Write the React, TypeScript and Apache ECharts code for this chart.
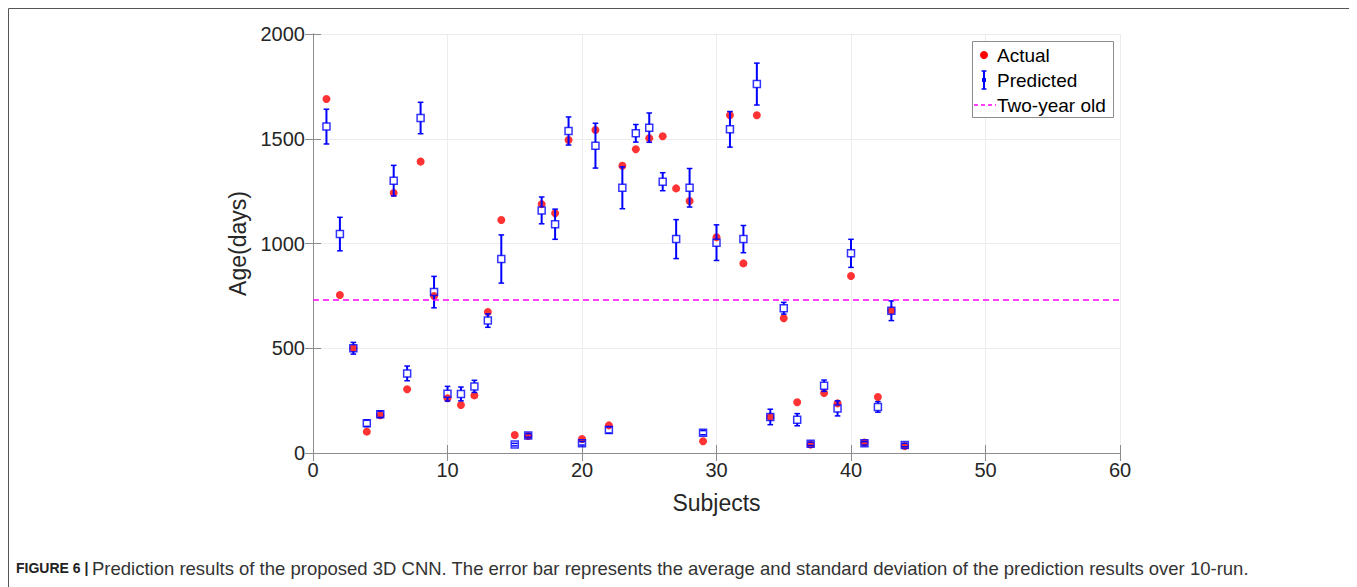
import React, { useEffect, useRef } from "react";
import * as echarts from "echarts";

const subjects = [1, 2, 3, 4, 5, 6, 7, 8, 9, 10, 11, 12, 13, 14, 15, 16, 17, 18, 19, 20, 21, 22, 23, 24, 25, 26, 27, 28, 29, 30, 31, 32, 33, 34, 35, 36, 37, 38, 39, 40, 41, 42, 43, 44];
const actual = [1690, 754, 500, 102, 180, 1241, 304, 1391, 749, 261, 229, 275, 673, 1112, 86, 81, 1188, 1144, 1494, 67, 1542, 132, 1371, 1450, 1502, 1512, 1263, 1203, 56, 1030, 1612, 905, 1612, 172, 643, 242, 40, 286, 237, 845, 50, 267, 680, 33];
const predicted = [1558, 1045, 500, 142, 185, 1300, 380, 1599, 768, 283, 282, 318, 632, 926, 40, 84, 1158, 1092, 1537, 46, 1467, 110, 1266, 1526, 1553, 1295, 1021, 1266, 97, 1004, 1545, 1021, 1761, 172, 691, 159, 44, 321, 213, 953, 46, 220, 679, 38];
const stdDev = [83, 80, 28, 15, 15, 73, 35, 75, 75, 35, 33, 29, 32, 115, 6, 8, 64, 72, 67, 8, 107, 15, 100, 42, 70, 43, 93, 92, 10, 85, 85, 65, 100, 37, 28, 29, 8, 27, 36, 67, 8, 25, 47, 8];
const twoYearOld = 730;
const xTicks = { min: 0, max: 60, interval: 10 };
const yTicks = { min: 0, max: 2000, interval: 500 };
const legendLabels = ["Actual", "Predicted", "Two-year old"];
const xTitle = "Subjects";
const yTitle = "Age(days)";
const captionBold = "FIGURE 6 |";
const captionText = "Prediction results of the proposed 3D CNN. The error bar represents the average and standard deviation of the prediction results over 10-run.";

const FONT = "'Liberation Sans', Arial, Helvetica, sans-serif";
const AXIS_COLOR = "#8c8c8c";
const TEXT_COLOR = "#262626";
const BLUE = "#0000ff";

export default function App() {
  const ref = useRef<HTMLDivElement>(null);
  useEffect(() => {
    if (!ref.current) return;
    const chart = echarts.init(ref.current, null, { renderer: "svg" });
    const axisLine = { show: true, lineStyle: { color: AXIS_COLOR, width: 1 } };
    const axisTick = { show: true, inside: true, length: 8, lineStyle: { color: AXIS_COLOR, width: 1 } };
    const splitLine = { show: true, lineStyle: { color: "#ececec", width: 1 } };
    const actualData = subjects.map((s, i) => [s, actual[i]]);
    const predData = subjects.map((s, i) => [s, predicted[i]]);
    const errData = subjects.map((s, i) => [s, predicted[i], stdDev[i]]);

    const option: any = {
      animation: false,
      textStyle: { fontFamily: FONT },
      grid: { left: 305, top: 26, width: 807, height: 419, containLabel: false },
      xAxis: [
        {
          type: "value", position: "bottom", ...xTicks,
          axisLine, axisTick, splitLine,
          axisLabel: { fontSize: 20, color: TEXT_COLOR, margin: 7, fontFamily: FONT, formatter: (v: number) => String(v) },
          name: xTitle, nameLocation: "middle", nameGap: 38,
          nameTextStyle: { fontSize: 23, color: TEXT_COLOR, fontFamily: FONT },
        },
        {
          type: "value", position: "top", ...xTicks,
          axisLine, axisTick, splitLine: { show: false }, axisLabel: { show: false },
        },
      ],
      yAxis: [
        {
          type: "value", position: "left", ...yTicks,
          axisLine, axisTick, splitLine,
          axisLabel: { fontSize: 20, color: TEXT_COLOR, margin: 8, fontFamily: FONT, formatter: (v: number) => String(v) },
          name: yTitle, nameLocation: "middle", nameGap: 46, nameRotate: 90,
          nameTextStyle: { fontSize: 23, color: TEXT_COLOR, fontFamily: FONT },
        },
        {
          type: "value", position: "right", ...yTicks,
          axisLine, axisTick, splitLine: { show: false }, axisLabel: { show: false },
        },
      ],
      series: [
        {
          name: legendLabels[0], type: "scatter", data: actualData,
          symbol: "circle", symbolSize: 8, itemStyle: { color: "#ff0000" }, z: 2,
          markLine: {
            silent: true, symbol: ["none", "none"], label: { show: false },
            lineStyle: { color: "#ff00ff", type: [6, 4], width: 1.5 },
            data: [{ yAxis: twoYearOld }],
          },
        },
        {
          name: legendLabels[1] + " error", type: "custom", data: errData, z: 3,
          encode: { x: 0, y: 1 },
          renderItem: (params: any, api: any) => {
            const x = api.value(0), m = api.value(1), s = api.value(2);
            const c = api.coord([x, m]);
            const t = api.coord([x, m + s]);
            const b = api.coord([x, m - s]);
            const h = 3.5, cap = 2.8;
            const style = { stroke: BLUE, lineWidth: 2 };
            const children: any[] = [];
            if (t[1] < c[1] - h) children.push({ type: "line", shape: { x1: c[0], y1: t[1], x2: c[0], y2: c[1] - h }, style });
            if (b[1] > c[1] + h) children.push({ type: "line", shape: { x1: c[0], y1: c[1] + h, x2: c[0], y2: b[1] }, style });
            children.push({ type: "line", shape: { x1: c[0] - cap, y1: t[1], x2: c[0] + cap, y2: t[1] }, style: { stroke: BLUE, lineWidth: 1.5 } });
            children.push({ type: "line", shape: { x1: c[0] - cap, y1: b[1], x2: c[0] + cap, y2: b[1] }, style: { stroke: BLUE, lineWidth: 1.5 } });
            return { type: "group", children };
          },
        },
        {
          name: legendLabels[1], type: "scatter", data: predData, z: 4,
          symbol: "rect", symbolSize: 7,
          itemStyle: { color: "rgba(0,0,0,0)", borderColor: BLUE, borderWidth: 1.5 },
        },
      ],
      graphic: [
        { type: "rect", shape: { x: 0.5, y: 0.5, width: 1345, height: 700 }, style: { fill: "none", stroke: "#555555", lineWidth: 1 }, silent: true },
        { type: "rect", shape: { x: 964.5, y: 33.5, width: 141, height: 76 }, style: { fill: "#ffffff", stroke: "#8c8c8c", lineWidth: 1 }, z: 10 },
        { type: "circle", shape: { cx: 976, cy: 47, r: 4 }, style: { fill: "#ff0000" }, z: 11 },
        { type: "line", shape: { x1: 976, y1: 63, x2: 976, y2: 81 }, style: { stroke: BLUE, lineWidth: 2 }, z: 11 },
        { type: "line", shape: { x1: 973.5, y1: 63, x2: 978.5, y2: 63 }, style: { stroke: BLUE, lineWidth: 1.5 }, z: 11 },
        { type: "line", shape: { x1: 973.5, y1: 81, x2: 978.5, y2: 81 }, style: { stroke: BLUE, lineWidth: 1.5 }, z: 11 },
        { type: "rect", shape: { x: 974, y: 70, width: 4, height: 4 }, style: { fill: BLUE }, z: 11 },
        { type: "line", shape: { x1: 966, y1: 97, x2: 988, y2: 97 }, style: { stroke: "#ff00ff", lineWidth: 1.5, lineDash: [4, 3] }, z: 11 },
        { type: "text", x: 989, y: 47, style: { text: legendLabels[0], fontSize: 19, fill: "#000", fontFamily: FONT, verticalAlign: "middle" }, z: 11 },
        { type: "text", x: 989, y: 72, style: { text: legendLabels[1], fontSize: 19, fill: "#000", fontFamily: FONT, verticalAlign: "middle" }, z: 11 },
        { type: "text", x: 989, y: 97, style: { text: legendLabels[2], fontSize: 19, fill: "#000", fontFamily: FONT, verticalAlign: "middle" }, z: 11 },
        { type: "text", x: 8, y: 560, style: { text: captionBold, fontSize: 14, fontWeight: "bold", fill: "#222", fontFamily: FONT, verticalAlign: "middle" } },
        { type: "text", x: 84, y: 560, style: { text: captionText, fontSize: 18.5, fill: "#333", fontFamily: FONT, verticalAlign: "middle" } },
      ],
    };
    chart.setOption(option);
    return () => chart.dispose();
  }, []);
  return <div ref={ref} style={{ width: 1349, height: 579 }} />;
}
